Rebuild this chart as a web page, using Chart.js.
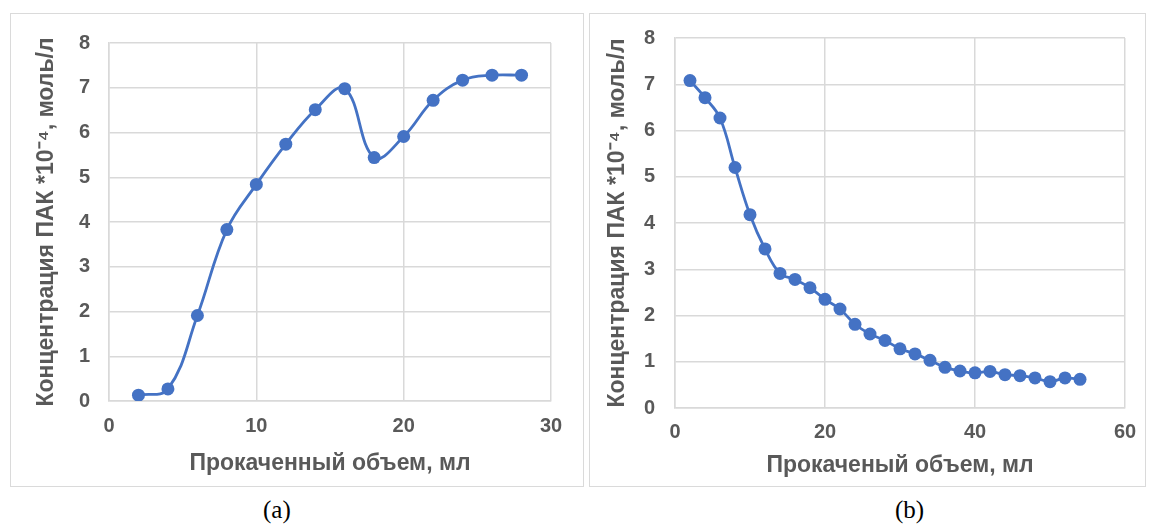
<!DOCTYPE html>
<html>
<head>
<meta charset="utf-8">
<script src="https://cdn.jsdelivr.net/npm/chart.js@4.4.1/dist/chart.umd.min.js"></script>
<style>
  body { margin: 0; background: #fff; width: 1150px; height: 532px; position: relative; overflow: hidden; }
  .panel { position: absolute; top: 13px; height: 474px; border: 1.5px solid #dadada; box-sizing: border-box; }
  #panelA { left: 10px; width: 574px; }
  #panelB { left: 589px; width: 557px; }
  .box { position: absolute; }
  #boxA { left: 12px; top: 15px; width: 569px; height: 470px; }
  #boxB { left: 591px; top: 15px; width: 552px; height: 470px; }
  .caption { position: absolute; top: 496px; font-family: 'Liberation Serif', serif; font-size: 25px; color: #000; }
</style>
</head>
<body>
<div class="panel" id="panelA"></div>
<div class="panel" id="panelB"></div>
<div class="box" id="boxA"><canvas id="chartA"></canvas></div>
<div class="box" id="boxB"><canvas id="chartB"></canvas></div>
<div class="caption" style="left:263px">(a)</div>
<div class="caption" style="left:895px">(b)</div>

<script>
// (a) concentration vs pumped volume
const volumeA = [2, 4, 6, 8, 10, 12, 14, 16, 18, 20, 22, 24, 26, 28];
const concA = [0.13, 0.27, 1.91, 3.83, 4.84, 5.74, 6.51, 6.98, 5.44, 5.91, 6.72, 7.17, 7.28, 7.28];

// (b) concentration vs pumped volume
const volumeB = [2, 4, 6, 8, 10, 12, 14, 16, 18, 20, 22, 24, 26, 28, 30, 32, 34, 36, 38, 40, 42, 44, 46, 48, 50, 52, 54];
const concB = [7.08, 6.71, 6.27, 5.20, 4.18, 3.44, 2.91, 2.78, 2.60, 2.35, 2.14, 1.81, 1.60, 1.46, 1.28, 1.17, 1.03, 0.88, 0.80, 0.76, 0.79, 0.72, 0.70, 0.65, 0.57, 0.65, 0.62];

const yTitle = 'Концентрация ПАК *10⁻⁴, моль/л';
const xTitleA = 'Прокаченный объем, мл';
const xTitleB = 'Прокаченый объем, мл';

const blue = '#4472C4';
const grey = '#595959';
const gridColor = '#d9d9d9';
const tickFont = { family: 'Liberation Sans', size: 20, weight: 'bold' };
const titleFont = { family: 'Liberation Sans', size: 23, weight: 'bold' };

function createScatter(canvas, xs, ys, cfg) {
    return new Chart(canvas, {
        type: 'scatter',
        data: {
            datasets: [{
                data: xs.map((x, i) => ({ x: x, y: ys[i] })),
                showLine: true,
                tension: 0.4,
                borderColor: blue,
                borderWidth: 2.8,
                backgroundColor: blue,
                pointRadius: 6.5,
                pointBorderWidth: 0,
            }],
        },
        options: {
            animation: false,
            responsive: true,
            maintainAspectRatio: false,
            layout: { padding: cfg.padding },
            plugins: { legend: { display: false }, tooltip: { enabled: false } },
            scales: {
                x: {
                    type: 'linear',
                    min: 0,
                    max: cfg.xMax,
                    ticks: { stepSize: cfg.xStep, color: grey, padding: cfg.xTickPad, font: tickFont },
                    grid: { color: gridColor, lineWidth: 1.5, drawTicks: false },
                    border: { color: gridColor, width: 1.5 },
                    title: { display: true, text: cfg.xTitle, color: grey, padding: 0, font: titleFont },
                    afterFit: (scale) => {
                        scale.height = cfg.xHeight;
                        scale.paddingLeft = 0;
                        scale.paddingRight = 0;
                    },
                },
                y: {
                    min: 0,
                    max: 8,
                    ticks: { stepSize: 1, color: grey, padding: cfg.yTickPad, font: tickFont },
                    grid: { color: gridColor, lineWidth: 1.5, drawTicks: false },
                    border: { color: gridColor, width: 1.5 },
                    title: { display: true, text: yTitle, color: grey, padding: 0, font: titleFont },
                    afterFit: (scale) => {
                        scale.width = cfg.yWidth;
                        scale.paddingTop = 0;
                        scale.paddingBottom = 0;
                    },
                },
            },
        },
    });
}

createScatter(document.getElementById('chartA'), volumeA, concA, {
    xMax: 30, xStep: 10, xTitle: xTitleA,
    padding: { left: 21, right: 30, top: 28, bottom: 8 },
    xHeight: 76, yWidth: 76, xTickPad: 13, yTickPad: 19,
});

createScatter(document.getElementById('chartB'), volumeB, concB, {
    xMax: 60, xStep: 20, xTitle: xTitleB,
    padding: { left: 13, right: 18, top: 23, bottom: 6 },
    xHeight: 71, yWidth: 71, xTickPad: 12, yTickPad: 20,
});
</script>
</body>
</html>
